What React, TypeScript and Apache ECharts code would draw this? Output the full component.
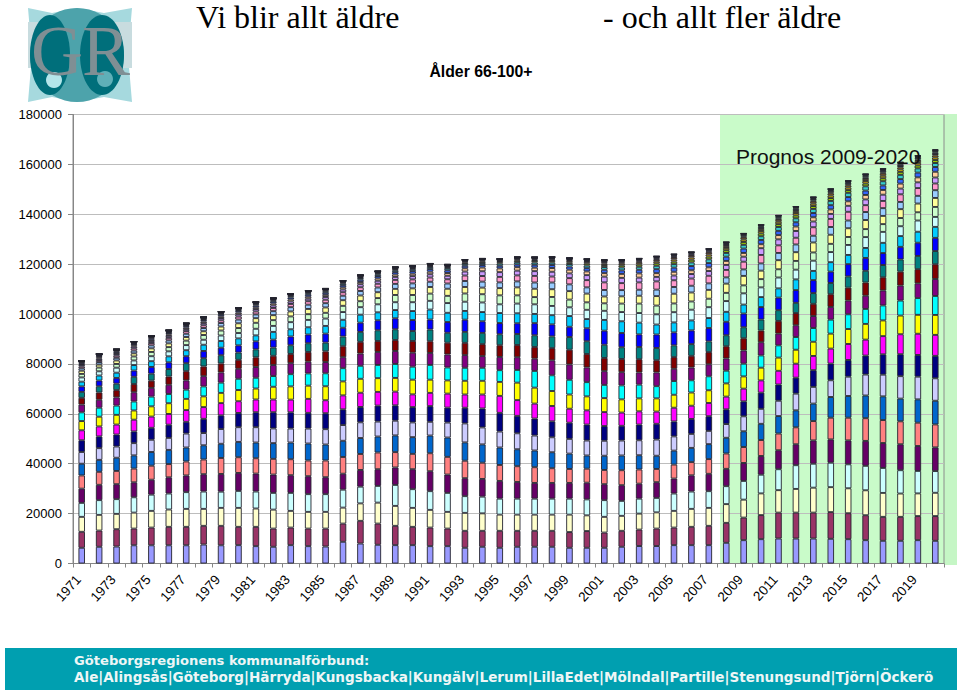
import React, { useEffect, useRef } from "react";
import * as echarts from "echarts";

const years = Array.from({ length: 50 }, (_, i) => String(1971 + i));
const a66 = [6300,6700,6800,7300,7300,7300,7300,7600,7300,7350,6950,6700,7350,6950,6800,8700,8000,7500,7350,7350,6950,6950,6300,6700,6300,6700,6700,6700,6300,6300,6300,6700,7000,7000,7350,7350,7350,8300,9350,9750,10000,10000,10000,9900,9750,9350,9100,9100,9350,9100];
const a67 = [6400,6500,6950,6700,7100,7400,7400,7500,7800,7350,7750,7300,7050,7050,7200,7300,9100,8500,7750,7350,7450,7050,6800,6400,6800,6400,6400,6400,6300,6700,6100,6400,6600,7000,7050,7350,7750,8000,9050,9650,10400,10400,10400,10700,10400,10000,9600,9600,9650,9900];
const a68 = [6000,6300,6150,6400,6700,6950,7200,6800,7200,7600,7350,7600,6700,6700,6700,6400,7000,8400,8000,7600,7100,6700,7200,7000,6500,6500,6500,6500,7000,6300,6300,6000,6400,6500,6700,7200,7200,7500,7200,8700,9000,9500,10000,10000,10000,10000,9600,9350,9100,9350];
const a69 = [5600,5900,5900,6150,6500,6400,6700,6950,6500,6800,6800,6700,7200,7100,7100,7200,6700,6700,8400,7500,7500,7600,6700,6700,6400,6400,6400,6400,6400,6400,6700,6000,6000,5800,6950,6950,6700,7200,7500,7500,8400,9500,9600,9800,9600,9800,10000,9350,9000,8700];
const a70 = [5700,6150,6000,6000,6000,6500,6700,6950,7100,7200,7200,7350,7100,7200,6800,6400,6700,6700,7000,8000,8000,7350,7200,7100,7100,6700,6300,6300,6300,6700,6400,6300,6000,6300,6000,6500,6950,6950,7200,7500,7600,8400,9350,9350,9600,10000,10000,10400,10000,9500];
const a71 = [5300,5200,5300,5500,5600,5300,5600,5900,6400,6300,6150,6300,6400,6300,6700,6700,6400,6700,6150,6150,7200,7100,7000,6500,6400,6300,6300,5900,5600,5600,5700,6000,5700,5300,5600,5300,5900,6150,6400,6400,6700,6800,7750,8700,9100,9100,9200,9200,9350,9200];
const a72 = [4700,4800,5300,5300,5500,5700,5600,5700,5700,6150,6300,6300,6700,6800,6400,6500,6400,6400,6700,6700,7100,7750,7350,7350,7000,6800,6700,6400,6150,5300,5700,5900,5700,5300,5600,5700,6000,6300,6300,6500,7000,6800,7000,8300,8700,9100,9500,9100,9350,9500];
const a73 = [4700,4700,4500,4900,4900,4800,5600,4900,5900,5900,6150,5900,5600,6000,6150,6300,6300,6000,5900,5900,5500,6000,7600,6800,6400,6400,6000,6000,5900,6000,6000,6000,6000,6500,5700,5600,5300,5500,6000,6000,6150,6700,6700,6700,7750,8400,8700,9000,9100,9000];
const a74 = [4700,4700,4800,4700,4800,5300,4700,5700,5500,5700,6000,6500,6500,6300,6400,6300,6150,6400,6150,6150,6300,6000,6300,7600,7500,7000,6800,6400,6500,6400,5900,5900,6300,6300,6000,6000,5900,5900,6000,6500,6500,6400,6700,6700,6700,7600,8150,8800,8700,9000];
const a75 = [4000,4000,4000,4700,4500,4300,4700,4700,4900,4700,5100,5100,5100,5600,5200,5600,5700,5500,5500,5100,5300,5600,5300,5600,6800,6300,6000,6150,5600,5700,5600,5300,5300,4900,5500,5300,5300,5100,5100,4900,5500,5600,5700,6000,6400,6400,7300,8000,8500,8400];
const a76 = [3700,3900,3900,3700,4100,4300,4500,4300,4100,4500,4400,5100,5300,5300,5600,5600,5600,5500,5500,5900,5300,5300,5500,5500,5600,7000,6400,6000,5700,5600,5600,5300,5200,5300,5200,5300,5100,5300,4900,5100,5300,5600,5700,6000,6000,6300,6300,7500,7600,8000];
const a77 = [3500,3600,3700,3600,3900,3700,3700,4000,4100,4500,4300,4300,4900,4900,5200,5300,5200,5300,5600,5200,5900,5200,5200,5200,4700,5100,6700,6300,5900,5700,5300,5600,5500,4900,5500,4900,5600,5100,5100,4900,4900,5100,5500,5600,5900,6000,6000,6000,6700,7600];
const a78 = [3100,3200,3300,3700,3500,3700,3700,4100,4100,4000,4300,4400,4400,4700,4500,4400,4900,5200,5200,5600,4800,5200,5100,4700,5300,5100,4900,6000,6150,5900,5500,5300,4900,5500,4900,5100,4800,4900,5300,5300,4700,4700,4800,5100,5500,5300,6000,6000,5900,6800];
const a79 = [2700,2900,2900,3300,2900,3300,3700,3900,3600,3600,3900,3700,3700,3900,4300,4400,4700,4400,4400,4700,4700,4700,4900,4800,4700,4900,4700,4900,5900,5400,5300,5300,5300,4900,4700,4700,4900,4900,4900,4700,5100,4900,4900,5100,5200,5300,5300,5600,5700,5900];
const a80 = [2400,2500,2600,2900,2800,3000,3200,3300,3300,2900,3200,3300,3500,3500,3500,3900,4000,4300,4300,4000,4700,4000,4400,4500,4400,4400,4700,4700,5100,5100,5300,4700,4900,4900,4700,4700,4300,4400,4400,4400,4300,4100,4300,4500,4500,4700,4900,4900,5300,5300];
const a81 = [2200,2300,2300,2500,2700,2700,2800,2900,3000,2900,3200,3200,3500,3500,3600,3500,3700,4000,4400,4400,4000,4300,4900,4650,4500,4300,4850,4800,4100,5200,5650,5700,5050,5400,5200,5500,5350,5400,5500,5000,5050,5100,5200,4550,4900,5150,4800,5050,5300,5300];
const a82 = [1900,2000,2100,2200,2300,2400,2400,2500,2700,2800,2400,3100,2900,2900,3100,3200,3200,3200,3300,3600,4000,3700,3500,3700,4000,4000,3700,3700,4300,3700,4300,4700,4700,4000,4000,4000,4000,4000,3600,4000,3700,4300,3700,3800,3700,4000,4100,4300,4400,4400];
const a83 = [1700,1700,2000,1850,2000,2000,2050,2000,2200,2150,2650,2400,2850,2950,2950,3100,3000,3200,3150,3550,3500,3900,3700,3850,3500,3900,3850,3700,3500,3700,3650,3700,3850,4100,4100,4300,4350,4300,4500,3900,4350,3900,4100,4050,4000,4350,4400,3950,4500,4000];
const a84 = [1400,1500,1500,1600,1700,1700,1800,1900,2000,2000,2400,2300,2300,2300,2300,2500,2400,2500,2900,2900,2900,2900,3300,3300,3600,3300,2900,3600,3100,3000,3000,3400,3800,3500,3500,3300,3400,3300,3200,3300,3300,3500,3300,3300,3200,3200,3100,3300,3300,4000];
const a85 = [1300,1200,1400,1250,1450,1500,1450,1500,1600,1900,1850,2000,2000,2100,2150,2250,2300,2350,2450,2650,2650,2850,2600,2650,2900,3200,3350,3100,3400,3500,2750,2900,3150,3800,3900,3600,3550,3700,3800,3400,3650,3500,4000,3650,3500,3650,3300,3550,3500,3600];
const a86 = [950,1000,1050,1100,1200,1200,1300,1300,1400,1500,1500,1600,1700,1700,1700,1800,1800,1900,2000,2000,2100,2100,2400,2400,2300,2400,2500,2700,2700,2500,2600,2500,2400,2600,2700,2700,2600,2500,2600,2900,2900,3100,2700,3100,3100,3200,3100,2900,3100,3100];
const a87 = [750,800,850,900,950,1000,1050,1100,1100,1200,1200,1300,1300,1400,1400,1400,1500,1500,1600,1600,1700,1700,2200,2250,2200,2400,2650,2400,2500,2900,3050,2800,2950,3300,2700,2900,3050,3000,3100,3400,3050,2700,3400,3250,3500,2750,2900,3050,3100,2700];
const a88 = [600,620,650,700,750,800,800,850,900,900,950,1000,1000,1000,1100,1100,1200,1200,1200,1300,1300,1400,1600,1900,1900,1900,1900,1900,1900,2000,2300,2100,1900,1800,1900,1800,1900,2000,2000,2700,2400,2700,2300,2000,2400,2300,2500,2300,2300,2400];
const a89 = [450,470,500,530,570,600,630,650,680,700,720,780,800,800,850,870,900,950,950,1000,1050,1100,1300,1500,1500,1400,1400,1500,1500,1500,1400,1600,1700,1500,1500,1500,1500,1600,1500,1600,1700,1800,1700,1800,1800,1800,1900,2000,2000,2300];
const a90 = [450,470,490,500,530,550,570,590,620,650,680,700,740,780,820,860,900,930,960,1020,1050,1120,1000,1000,1050,1100,1150,1200,1250,1300,1350,1400,1450,1600,1650,1700,1700,1700,1750,1700,1700,1700,1700,1700,1700,1750,1800,1800,1900,1900];
const a91 = [300,320,340,350,380,400,410,430,450,470,500,520,550,590,620,650,680,710,740,780,800,860,750,800,850,900,900,950,1000,1050,1100,1200,1200,1350,1400,1450,1500,1500,1500,1500,1550,1600,1650,1700,1700,1700,1700,1700,1700,1600];
const a92 = [180,190,210,220,240,250,260,270,280,290,310,320,340,350,370,380,390,410,420,430,450,470,550,570,600,620,640,680,720,750,800,850,900,1000,1050,1100,1100,1100,1150,1150,1150,1150,1150,1150,1100,1150,1200,1200,1200,1200];
const a93 = [130,140,150,155,170,175,185,190,200,210,220,230,240,250,260,270,280,290,300,310,320,340,400,420,450,470,500,520,550,580,620,650,700,800,820,850,850,900,950,950,950,950,950,1000,1000,1000,1000,1000,1000,1000];
const a94 = [90,95,100,110,115,120,125,130,140,145,155,160,170,175,180,190,200,210,215,220,230,240,280,300,320,340,360,380,400,430,470,500,540,620,650,680,680,720,750,750,760,760,770,780,800,800,800,800,800,800];
const a95 = [60,65,70,70,75,80,85,90,95,100,105,110,115,120,125,130,135,140,145,150,155,165,190,200,220,230,240,250,270,290,310,340,370,420,450,470,470,480,500,500,500,510,510,520,520,520,530,530,540,600];
const a96 = [40,40,45,45,50,50,55,60,60,65,70,70,75,80,80,85,90,95,100,100,105,110,130,140,160,170,190,200,220,250,280,300,330,400,420,440,450,460,480,500,520,540,560,570,580,590,600,610,620,650];
const a97 = [25,25,30,30,30,35,35,35,40,40,45,45,50,50,50,55,60,60,65,65,70,70,90,95,105,115,125,135,150,170,190,210,240,280,300,310,320,330,340,350,360,370,380,390,400,410,420,430,440,460];
const a98 = [15,15,20,20,20,20,20,25,25,25,30,30,30,30,35,35,40,40,40,45,45,50,55,60,70,80,90,100,110,120,130,150,170,200,210,220,230,240,250,260,270,270,280,280,290,290,290,300,310,320];
const a99 = [10,10,10,15,15,15,15,15,15,15,20,20,20,20,20,25,25,25,25,30,30,30,35,40,40,45,45,45,50,50,55,60,60,65,70,70,70,80,80,80,80,90,90,90,100,100,110,120,130,170];
const a100 = [10,10,15,15,20,20,20,25,25,25,30,30,30,35,35,40,40,45,45,50,50,55,60,65,70,75,80,85,90,95,100,105,110,115,120,125,130,135,140,145,150,155,160,165,170,180,190,200,220,300];

const rows = [a66,a67,a68,a69,a70,a71,a72,a73,a74,a75,a76,a77,a78,a79,a80,a81,a82,a83,a84,a85,a86,a87,a88,a89,a90,a91,a92,a93,a94,a95,a96,a97,a98,a99,a100];
const palette = ["#9999ff","#993366","#ffffcc","#ccffff","#660066","#ff8080","#0066cc","#ccccff","#000080","#ff00ff","#ffff00","#00ffff","#800080","#800000","#008080","#0000ff","#00ccff","#ccffff","#ccffcc","#ffff99","#99ccff","#ff99cc","#cc99ff","#ffcc99","#3366ff","#33cccc","#99cc00","#ffcc00","#ff9900","#ff6600","#666699","#969696","#003366","#339966","#003300"];

const line1 = "Göteborgsregionens kommunalförbund:";
const line2 = "Ale|Alingsås|Göteborg|Härryda|Kungsbacka|Kungälv|Lerum|LillaEdet|Mölndal|Partille|Stenungsund|Tjörn|Öckerö";

export default function App() {
  const ref = useRef<HTMLDivElement>(null);
  useEffect(() => {
    document.body.style.margin = "0";
    const chart = echarts.init(ref.current!, undefined, { renderer: "svg" });
    chart.setOption({
      animation: false,
      backgroundColor: "#ffffff",
      textStyle: { fontFamily: "Liberation Sans" },
      grid: { left: 73, right: 16, top: 114.5, bottom: 127.5, show: true, borderColor: "#8c8c8c", borderWidth: 1, backgroundColor: "transparent" },
      xAxis: {
        type: "category", data: years,
        axisLine: { lineStyle: { color: "#868686" } },
        axisTick: { show: true, interval: 0, length: 4, lineStyle: { color: "#868686" } },
        axisLabel: { interval: 1, rotate: 48, color: "#000", fontSize: 13.5, margin: 10, padding: [0, 5, 0, 0], fontFamily: "Liberation Sans" },
      },
      yAxis: {
        type: "value", min: 0, max: 180000, interval: 20000,
        axisLine: { show: true, lineStyle: { color: "#868686" } },
        axisTick: { show: true, length: 5, lineStyle: { color: "#868686" } },
        axisLabel: { color: "#000", fontSize: 13, margin: 11, fontFamily: "Liberation Sans", formatter: (v: number) => String(v) },
        splitLine: { lineStyle: { color: "#bdbdbd", width: 1 } },
      },
      series: rows.map((r, i) => ({
        type: "bar", name: String(66 + i), stack: "age", data: r, barWidth: 6.5,
        itemStyle: { color: palette[i], borderColor: "#24242f", borderWidth: 0.9 },
      })),
      graphic: [
        { type: "rect", z: -2, shape: { x: 720, y: 114, width: 224, height: 449 }, style: { fill: "#c9fbc9" } },
        { type: "rect", z: -2, shape: { x: 944, y: 114, width: 13, height: 451 }, style: { fill: "#c5f6c5" } },
        { type: "rect", z: 10, shape: { x: 5, y: 648, width: 952, height: 42 }, style: { fill: "#009fb0" } },
        { type: "text", z: 11, x: 74, y: 654, style: { text: line1, fill: "#eef6f6", font: "bold 13.1px 'DejaVu Sans'" } },
        { type: "text", z: 11, x: 74, y: 670, style: { text: line2, fill: "#eef6f6", font: "bold 13.55px 'DejaVu Sans'" } },
        { type: "text", z: 11, x: 196, y: 1, style: { text: "Vi blir allt äldre", fill: "#000", font: "32px 'Liberation Serif'", lineHeight: 31 } },
        { type: "text", z: 11, x: 603, y: 1, style: { text: "- och allt fler äldre", fill: "#000", font: "32px 'Liberation Serif'", lineHeight: 31 } },
        { type: "text", z: 11, x: 481, y: 63, style: { text: "Ålder 66-100+", fill: "#000", align: "center", font: "bold 15.8px 'Liberation Sans'" } },
        { type: "text", z: 11, x: 736, y: 146, style: { text: "Prognos 2009-2020", fill: "#111", font: "21px 'Liberation Sans'" } },
        { type: "group", z: 5, children: [
          { type: "polygon", shape: { points: [[28,8],[52,13],[77,8],[104,13],[132,8],[128,55],[132,102],[104,97],[77,102],[52,97],[28,102],[32,55]] }, style: { fill: "#a6d9de" } },
          { type: "rect", shape: { x: 28, y: 22, width: 104, height: 46 }, style: { fill: "#c8dcdf" } },
          { type: "circle", shape: { cx: 77, cy: 55, r: 47 }, style: { fill: "#4da3ab" } },
          { type: "ellipse", shape: { cx: 50, cy: 55, rx: 20, ry: 40 }, style: { fill: "#006f7b" } },
          { type: "ellipse", shape: { cx: 102, cy: 55, rx: 22, ry: 40 }, style: { fill: "#006f7b" } },
          { type: "circle", shape: { cx: 54, cy: 80, r: 8 }, style: { fill: "#b4e6ea" } },
          { type: "circle", shape: { cx: 105, cy: 79, r: 8 }, style: { fill: "#5fb0b8" } },
          { type: "text", x: 31, y: 15, style: { text: "G", fill: "#7f8f94", font: "72px 'Liberation Serif'" } },
          { type: "text", x: 82, y: 15, style: { text: "R", fill: "#7f8f94", font: "72px 'Liberation Serif'" } },
        ] },
      ],
    });
    return () => chart.dispose();
  }, []);
  return <div ref={ref} style={{ position: "absolute", left: 0, top: 0, width: 960, height: 691 }} />;
}
